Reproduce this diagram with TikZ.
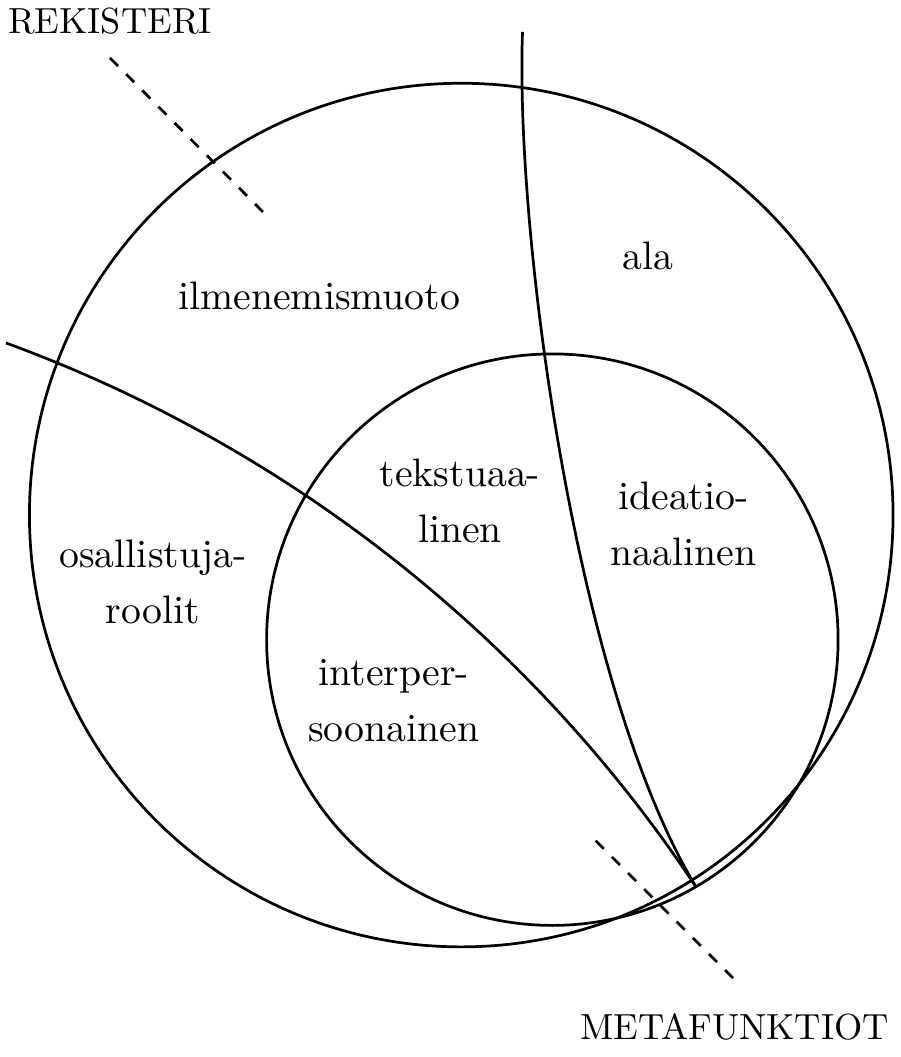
\documentclass[tikz,border=0pt]{standalone}
\usepackage{tikz}
\usetikzlibrary{positioning}
\tikzstyle{region} = [align=center, font=\fontsize{10.95}{15.4}\selectfont]
\tikzstyle{boundary} = [line width=0.75pt]
\tikzstyle{divider} = [line width=0.75pt, dash pattern=on 3.15pt off 3.15pt]

\begin{document}
\begin{tikzpicture}
            \useasboundingbox (-4.465,-5.246) rectangle (4.248,4.986);
            \coordinate (centre) at (0,0);
            \coordinate (inner) at (0.882,-1.206);
            \coordinate (meet) at (2.273,-3.600);
            \coordinate (west) at (-4.407,1.666);
            \coordinate (north) at (0.593,4.677);
            \coordinate (r1) at (-3.400,4.425);
            \coordinate (r2) at (-1.919,2.934);
            \coordinate (m1) at (1.302,-3.152);
            \coordinate (m2) at (2.644,-4.494);
            \draw [boundary] (centre) circle (4.18);
            \draw [boundary] (inner) circle (2.766);
            \draw [boundary] (west) .. controls (-1.677,0.665) and (0.663,-1.179) .. (meet);
            \draw [boundary] (north) .. controls (0.521,2.741) and (1.102,-1.664) .. (meet);
            \draw [divider] (r1) -- (r2);
            \draw [divider] (m1) -- (m2);
            \node (rekisteri) [above=3pt of r1] {REKISTERI};
            \node (metafunktiot) [below=6pt of m2] {METAFUNKTIOT};
            \node (ilmen) [region] at (-1.375,2.119) {ilmenemismuoto};
            \node (ala) [region] at (1.808,2.505) {ala};
            \node (osall) [region] at (-2.984,-0.643) {osallistuja-\\roolit};
            \node (tekst) [region] at (-0.012,0.135) {tekstuaa-\\linen};
            \node (ideat) [region] at (2.150,-0.083) {ideatio-\\naalinen};
            \node (inter) [region] at (-0.651,-1.796) {interper-\\soonainen};
        \end{tikzpicture}
\end{document}
